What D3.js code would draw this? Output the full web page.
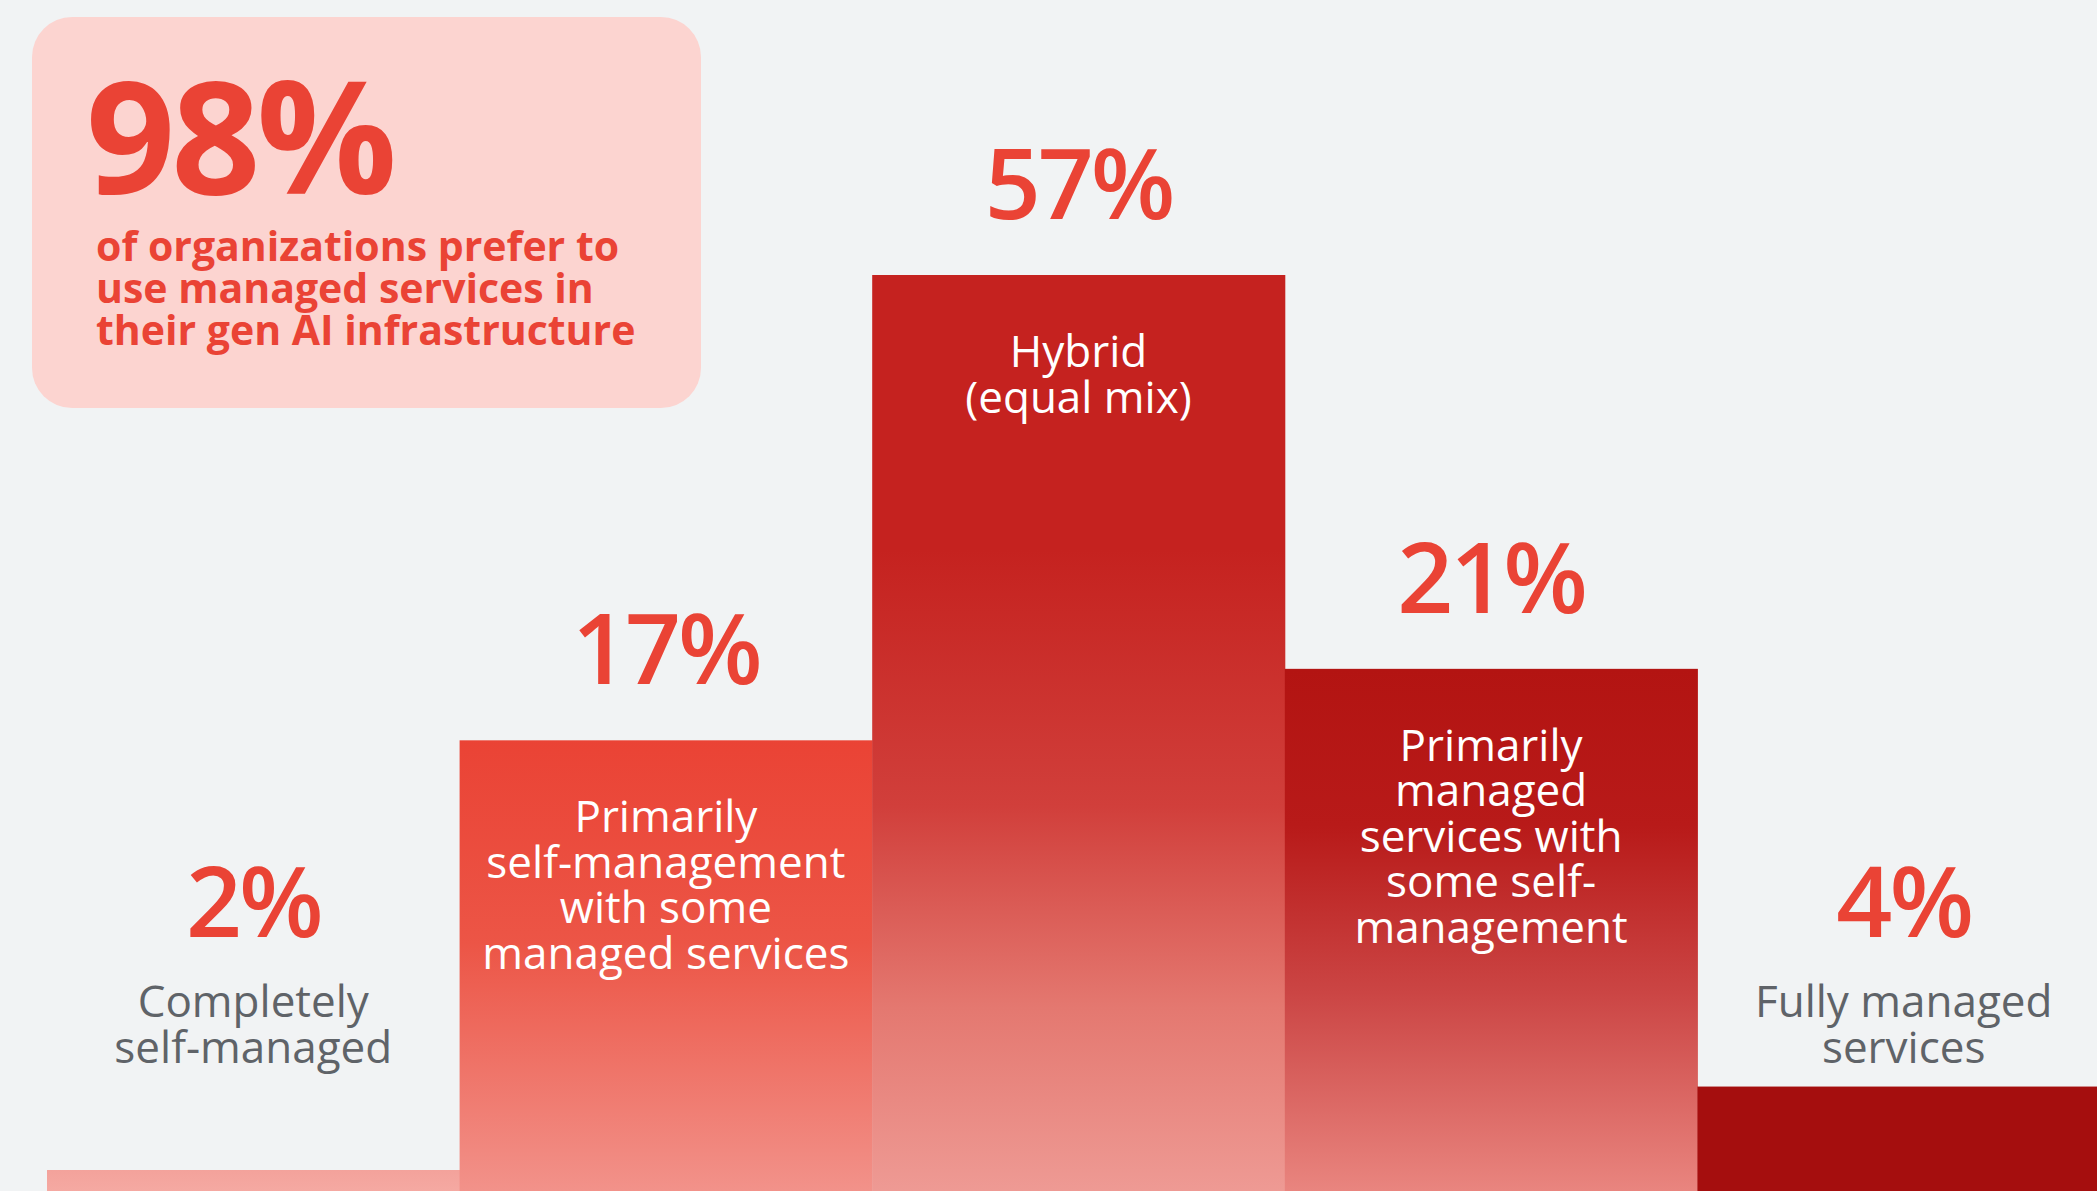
<!DOCTYPE html>
<html>
<head>
<meta charset="utf-8">
<script src="https://cdn.jsdelivr.net/npm/d3@7/dist/d3.min.js"></script>
<style>
  html, body { margin: 0; padding: 0; background: #f1f3f4; }
  svg { display: block; }
  text { font-family: "Open Sans", "Noto Sans", sans-serif; }
</style>
</head>
<body>
<svg id="chart" width="2097" height="1191"></svg>
<script>
// ---- data ----
const categories = [
  "Completely self-managed",
  "Primarily self-management with some managed services",
  "Hybrid (equal mix)",
  "Primarily managed services with some self-management",
  "Fully managed services"
];
const values = [2, 17, 57, 21, 4];
const labelLines = [
  ["Completely", "self-managed"],
  ["Primarily", "self-management", "with some", "managed services"],
  ["Hybrid", "(equal mix)"],
  ["Primarily", "managed", "services with", "some self-", "management"],
  ["Fully managed", "services"]
];
const calloutValue = "98%";
const calloutLines = ["of organizations prefer to", "use managed services in", "their gen AI infrastructure"];

// ---- styles ----
const barGradients = [
  [[0, "#f3a29b"], [1, "#f5a9a2"]],
  [[0, "#ea4335"], [0.45, "#ec5546"], [1, "#f2928a"]],
  [[0, "#c5221f"], [0.3, "#c5221f"], [0.58, "#d13f3b"], [0.8, "#e47870"], [1, "#ee9a94"]],
  [[0, "#b31412"], [0.3, "#b81a19"], [0.62, "#cb4544"], [1, "#e9857f"]],
  [[0, "#a50e0e"], [1, "#a50e0e"]]
];
const RED = "#ea4335";
const GREY = "#5f6368";

const W = 2097, H = 1191;
const svg = d3.select("#chart");

svg.append("rect").attr("width", W).attr("height", H).attr("fill", "#f1f3f4");

const x = d3.scaleBand().domain(categories).range([47, 2110]).paddingInner(0).paddingOuter(0);
const y = d3.scaleSymlog().constant(9).domain([2, 57]).range([1170, 275]);

const defs = svg.append("defs");
categories.forEach((c, i) => {
  const g = defs.append("linearGradient").attr("id", "g" + i)
    .attr("x1", 0).attr("y1", 0).attr("x2", 0).attr("y2", 1);
  barGradients[i].forEach(s => g.append("stop").attr("offset", s[0]).attr("stop-color", s[1]));
});

const data = categories.map((c, i) => ({ c, v: values[i], lines: labelLines[i], i }));

// bars
svg.append("g").selectAll("rect").data(data).join("rect")
  .attr("x", d => x(d.c))
  .attr("y", d => y(d.v))
  .attr("width", x.bandwidth() + 0.5)
  .attr("height", d => H - y(d.v))
  .attr("fill", d => `url(#g${d.i})`);

const inside = d => d.v >= 10;
const cx = d => x(d.c) + x.bandwidth() / 2;

// percentage labels
svg.append("g").selectAll("text").data(data).join("text")
  .attr("x", cx)
  .attr("y", d => inside(d) ? y(d.v) - 56 : 937)
  .attr("text-anchor", "middle")
  .attr("fill", RED)
  .attr("font-size", 98)
  .attr("font-weight", 600)
  .attr("letter-spacing", -3)
  .text(d => d.v + "%");

// category labels
const lg = svg.append("g").selectAll("text").data(data).join("text")
  .attr("text-anchor", "middle")
  .attr("fill", d => inside(d) ? "#ffffff" : GREY)
  .attr("font-size", 44)
  .attr("font-weight", 400);
lg.each(function(d) {
  const t = d3.select(this);
  const y0 = inside(d) ? y(d.v) + 92 : 1017;
  d.lines.forEach((ln, k) => {
    t.append("tspan").attr("x", cx(d)).attr("y", y0 + k * 45.5).text(ln);
  });
});

// callout box
const box = svg.append("g");
box.append("rect")
  .attr("x", 32).attr("y", 17).attr("width", 669).attr("height", 391)
  .attr("rx", 40).attr("ry", 40)
  .attr("fill", "#fcd4d0");
box.append("text")
  .attr("x", 86).attr("y", 194)
  .attr("fill", RED)
  .attr("font-size", 156)
  .attr("font-weight", 700)
  .attr("letter-spacing", -4)
  .text(calloutValue);
box.append("text")
  .attr("fill", RED)
  .attr("font-size", 41)
  .attr("font-weight", 700)
  .selectAll("tspan").data(calloutLines).join("tspan")
  .attr("x", 96)
  .attr("y", (d, i) => 261 + i * 42)
  .text(d => d);
</script>
</body>
</html>
